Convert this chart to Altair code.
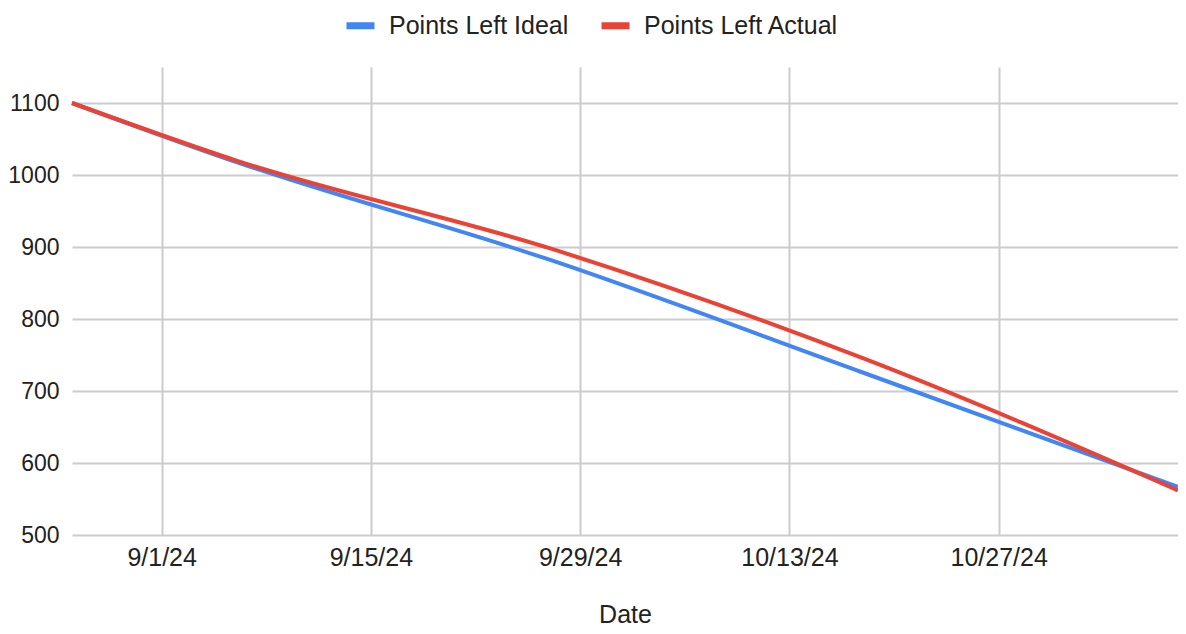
import altair as alt
import pandas as pd

dates = ["2024-08-26", "2024-09-06", "2024-09-27", "2024-10-18", "2024-11-08"]
ideal = [1100, 1018, 882, 725, 567]
actual = [1100, 1020, 898, 745, 562]
series = ["Points Left Ideal", "Points Left Actual"]
colors = ["#4285F4", "#EA4335"]
x_ticks = [(2024, 9, 1), (2024, 9, 15), (2024, 9, 29), (2024, 10, 13), (2024, 10, 27)]
x_domain = [(2024, 8, 26), (2024, 11, 8)]
y_ticks = [500, 600, 700, 800, 900, 1000, 1100]

df = pd.DataFrame({
    "Date": dates + dates,
    "Points": ideal + actual,
    "Series": [series[0]] * len(dates) + [series[1]] * len(dates),
})


def dt(t):
    return alt.DateTime(year=t[0], month=t[1], date=t[2], utc=True)


FONT = "Liberation Sans"
FS = 25

chart = alt.Chart(df).mark_line(strokeWidth=4, interpolate="monotone").encode(
    x=alt.X(
        "Date:T",
        title="Date",
        scale=alt.Scale(type="utc", domain=[dt(d) for d in x_domain]),
        axis=alt.Axis(
            values=[dt(d) for d in x_ticks],
            format="%-m/%-d/%y",
            grid=True,
            ticks=False,
            domain=False,
            labelFontSize=FS,
            titleFontSize=25,
            titleFontWeight="normal",
            labelPadding=10,
            titlePadding=32,
            labelColor="#222222",
            titleColor="#222222",
            labelFont=FONT,
            titleFont=FONT,
            gridColor="#cccccc",
            gridWidth=2,
        ),
    ),
    y=alt.Y(
        "Points:Q",
        title=None,
        scale=alt.Scale(domain=[500, 1150], nice=False, zero=False),
        axis=alt.Axis(
            values=y_ticks,
            format="d",
            grid=True,
            ticks=False,
            domain=False,
            labelFontSize=23,
            labelPadding=13,
            labelColor="#222222",
            labelFont=FONT,
            gridColor="#cccccc",
            gridWidth=2,
        ),
    ),
    color=alt.Color(
        "Series:N",
        scale=alt.Scale(domain=series, range=colors),
        legend=alt.Legend(
            title=None,
            orient="none",
            direction="horizontal",
            legendX=271,
            legendY=-59,
            symbolType="stroke",
            symbolSize=784,
            symbolStrokeWidth=7,
            labelFontSize=FS,
            labelFont=FONT,
            labelColor="#222222",
            labelOffset=11,
            labelLimit=400,
            columnPadding=18,
        ),
    ),
).properties(
    width=1106,
    height=468,
    autosize=alt.AutoSizeParams(type="none"),
    padding={"left": 64, "top": 59, "right": 0, "bottom": 91},
).configure_view(stroke=None)

chart.save("out.html", embed_options={"renderer": "svg", "actions": False})
